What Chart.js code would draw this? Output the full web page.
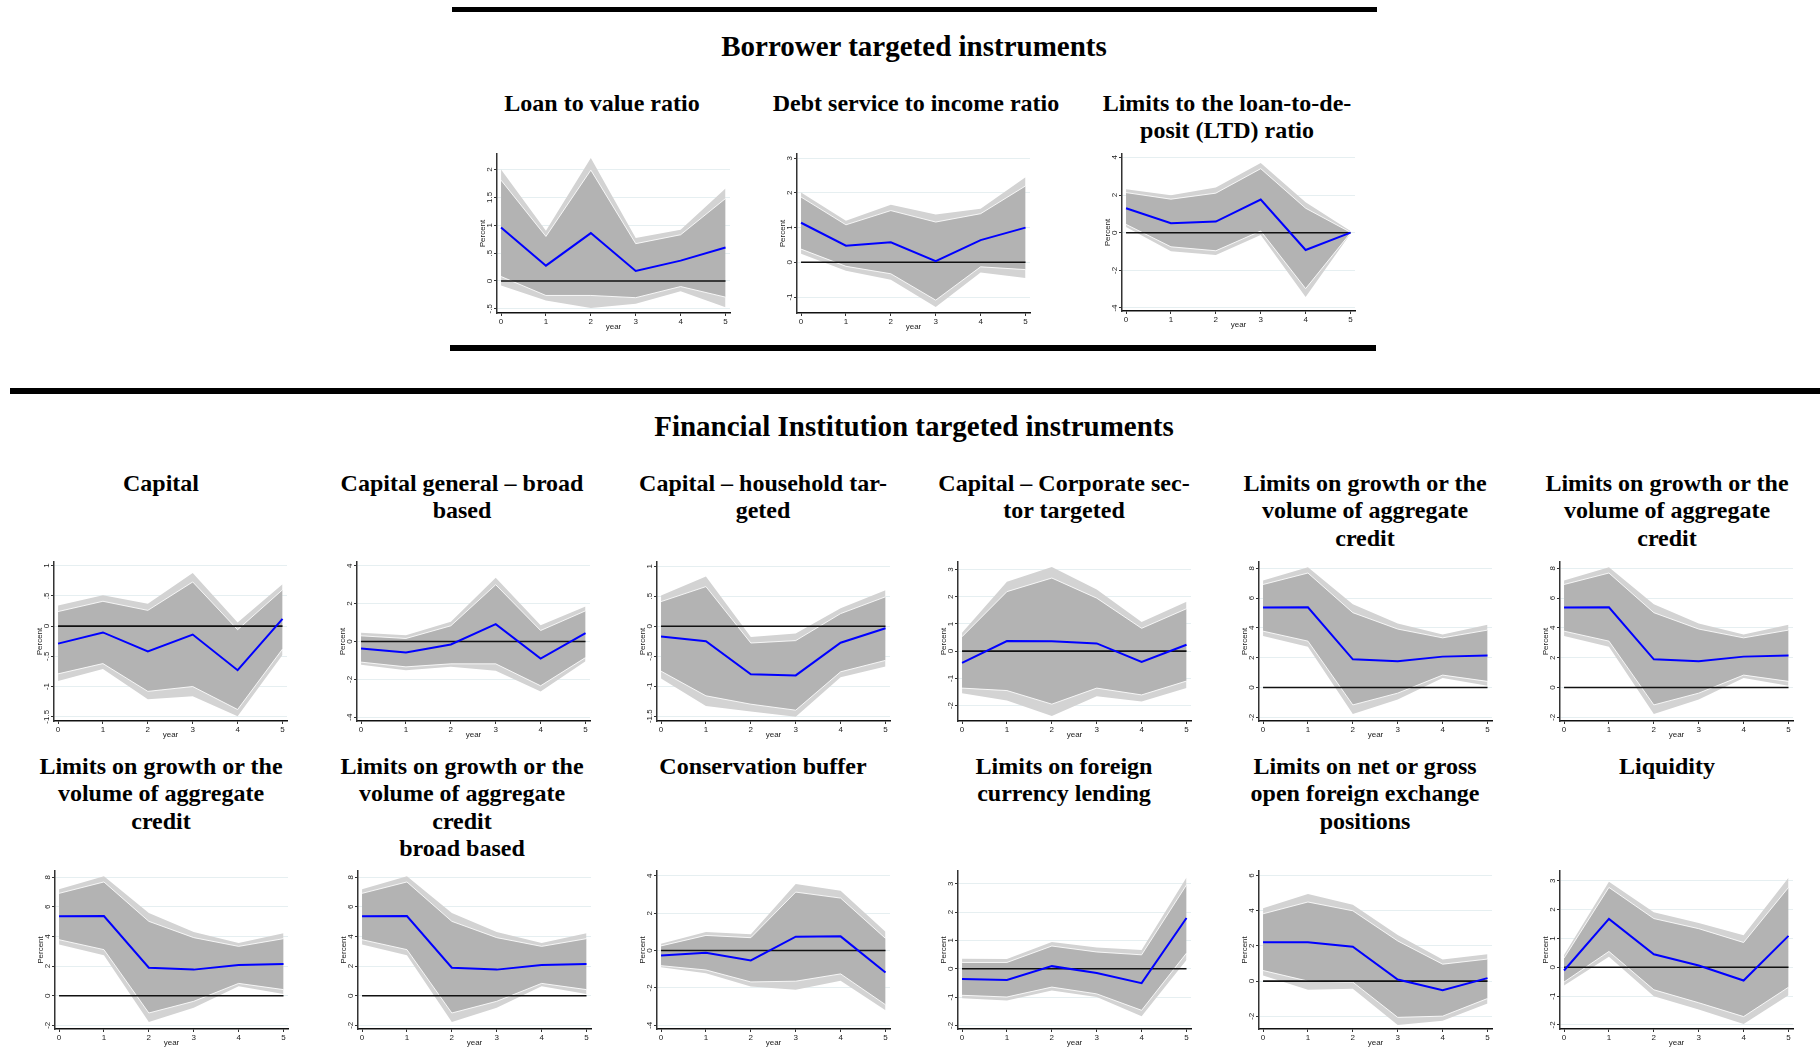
<!DOCTYPE html>
<html>
<head>
<meta charset="utf-8">
<script src="https://cdn.jsdelivr.net/npm/chart.js@4.4.0/dist/chart.umd.min.js"></script>
<style>
body { margin:0; background:#fff; width:1820px; height:1062px; position:relative; overflow:hidden;
       font-family:"Liberation Serif","Times New Roman",serif; }
.bar { position:absolute; background:#000; }
.head { position:absolute; width:900px; text-align:center; font-weight:bold; font-size:29px; line-height:34px; }
.ttl { position:absolute; width:300px; text-align:center; font-weight:bold; font-size:24px; line-height:27.4px; }
.pan { position:absolute; }
</style>
</head>
<body>
<div class="bar" style="left:452px;top:7px;width:925px;height:5px"></div>
<div class="head" style="left:464px;top:29px">Borrower targeted instruments</div>
<div class="bar" style="left:450px;top:345px;width:926px;height:6px"></div>
<div class="bar" style="left:10px;top:388px;width:1810px;height:6px"></div>
<div class="head" style="left:464px;top:409px">Financial Institution targeted instruments</div>

<script>
// impulse responses, years 0-5
const years = [0, 1, 2, 3, 4, 5];
const zeroLine = [0, 0, 0, 0, 0, 0];

// Loan to value ratio
const ltvMean    = [0.96, 0.275, 0.86, 0.18, 0.365, 0.60];
const ltvInnerHi = [1.81, 0.80, 1.99, 0.67, 0.83, 1.48];
const ltvOuterHi = [2.00, 0.90, 2.21, 0.77, 0.92, 1.66];
const ltvInnerLo = [0.08, -0.26, -0.26, -0.30, -0.10, -0.29];
const ltvOuterLo = [-0.08, -0.35, -0.485, -0.41, -0.185, -0.47];
const ltvTicks = [-0.5, 0, 0.5, 1, 1.5, 2];
const ltvRange = [-0.575, 2.28];

// Debt service to income ratio
const dstiMean    = [1.14, 0.48, 0.575, 0.03, 0.64, 1.0];
const dstiInnerHi = [1.88, 1.08, 1.49, 1.16, 1.40, 2.20];
const dstiOuterHi = [2.01, 1.20, 1.66, 1.38, 1.54, 2.45];
const dstiInnerLo = [0.38, -0.115, -0.33, -1.09, -0.13, -0.21];
const dstiOuterLo = [0.25, -0.24, -0.50, -1.29, -0.29, -0.45];
const dstiTicks = [-1, 0, 1, 2, 3];
const dstiRange = [-1.46, 3.12];

// Limits to the loan-to-deposit ratio
const ltdMean    = [1.30, 0.50, 0.59, 1.76, -0.92, 0];
const ltdInnerHi = [2.13, 1.78, 2.10, 3.40, 1.30, 0.02];
const ltdOuterHi = [2.31, 1.99, 2.40, 3.70, 1.62, 0.09];
const ltdInnerLo = [0.44, -0.75, -0.96, 0.09, -2.97, -0.02];
const ltdOuterLo = [0.30, -0.98, -1.19, -0.12, -3.41, -0.05];
const ltdTicks = [-4, -2, 0, 2, 4];
const ltdRange = [-4.16, 4.18];

// Capital
const capMean    = [-0.29, -0.105, -0.42, -0.14, -0.73, 0.12];
const capInnerHi = [0.24, 0.41, 0.26, 0.73, -0.06, 0.60];
const capOuterHi = [0.34, 0.51, 0.37, 0.88, 0.06, 0.69];
const capInnerLo = [-0.79, -0.62, -1.08, -1.00, -1.38, -0.38];
const capOuterLo = [-0.91, -0.71, -1.21, -1.16, -1.49, -0.48];
const capTicks = [-1.5, -1, -0.5, 0, 0.5, 1];
const capRange = [-1.57, 1.06];

// Capital general - broad based
const capGenMean    = [-0.37, -0.58, -0.16, 0.92, -0.90, 0.44];
const capGenInnerHi = [0.30, 0.16, 0.83, 3.00, 0.58, 1.62];
const capGenOuterHi = [0.46, 0.33, 1.04, 3.37, 0.86, 1.85];
const capGenInnerLo = [-1.09, -1.34, -1.18, -1.18, -2.34, -0.85];
const capGenOuterLo = [-1.23, -1.52, -1.34, -1.55, -2.64, -1.04];
const capGenTicks = [-4, -2, 0, 2, 4];
const capGenRange = [-4.2, 4.2];

// Capital - household targeted
const capHhMean    = [-0.17, -0.25, -0.80, -0.82, -0.275, -0.035];
const capHhInnerHi = [0.41, 0.66, -0.28, -0.24, 0.21, 0.49];
const capHhOuterHi = [0.51, 0.83, -0.18, -0.12, 0.30, 0.60];
const capHhInnerLo = [-0.75, -1.16, -1.30, -1.40, -0.76, -0.57];
const capHhOuterLo = [-0.87, -1.33, -1.42, -1.51, -0.85, -0.67];
const capHhTicks = [-1.5, -1, -0.5, 0, 0.5, 1];
const capHhRange = [-1.58, 1.07];

// Capital - corporate sector targeted
const capCorpMean    = [-0.43, 0.37, 0.36, 0.285, -0.40, 0.235];
const capCorpInnerHi = [0.53, 2.19, 2.69, 1.95, 0.84, 1.56];
const capCorpOuterHi = [0.68, 2.55, 3.10, 2.27, 1.07, 1.82];
const capCorpInnerLo = [-1.36, -1.45, -1.95, -1.36, -1.61, -1.10];
const capCorpOuterLo = [-1.55, -1.82, -2.39, -1.66, -1.85, -1.36];
const capCorpTicks = [-2, -1, 0, 1, 2, 3];
const capCorpRange = [-2.57, 3.28];

// Limits on growth or the volume of aggregate credit
const aggMean    = [5.36, 5.38, 1.89, 1.76, 2.07, 2.14];
const aggInnerHi = [6.91, 7.68, 5.02, 3.92, 3.33, 3.85];
const aggOuterHi = [7.18, 8.06, 5.59, 4.30, 3.56, 4.21];
const aggInnerLo = [3.78, 3.11, -1.17, -0.38, 0.83, 0.41];
const aggOuterLo = [3.45, 2.73, -1.78, -0.81, 0.63, 0.11];
const aggTicks = [-2, 0, 2, 4, 6, 8];
const aggRange = [-2.25, 8.42];

// Conservation buffer
const consMean    = [-0.27, -0.12, -0.53, 0.74, 0.76, -1.17];
const consInnerHi = [0.25, 0.81, 0.69, 3.13, 2.81, 0.65];
const consOuterHi = [0.37, 0.99, 0.88, 3.57, 3.20, 1.01];
const consInnerLo = [-0.81, -1.04, -1.68, -1.64, -1.25, -2.90];
const consOuterLo = [-0.90, -1.22, -1.93, -2.10, -1.61, -3.20];
const consTicks = [-4, -2, 0, 2, 4];
const consRange = [-4.2, 4.26];

// Limits on foreign currency lending
const fxMean    = [-0.36, -0.40, 0.09, -0.15, -0.51, 1.79];
const fxInnerHi = [0.22, 0.22, 0.80, 0.59, 0.49, 2.96];
const fxOuterHi = [0.35, 0.34, 0.94, 0.75, 0.66, 3.22];
const fxInnerLo = [-0.94, -1.00, -0.65, -0.89, -1.47, 0.55];
const fxOuterLo = [-1.04, -1.12, -0.77, -1.00, -1.68, 0.31];
const fxTicks = [-2, -1, 0, 1, 2, 3];
const fxRange = [-2.13, 3.45];

// Limits on net or gross open foreign exchange positions
const netFxMean    = [2.21, 2.21, 1.95, 0.09, -0.52, 0.17];
const netFxInnerHi = [3.82, 4.49, 3.99, 2.28, 0.96, 1.25];
const netFxOuterHi = [4.14, 4.94, 4.34, 2.62, 1.22, 1.52];
const netFxInnerLo = [0.60, 0.00, -0.06, -2.06, -1.99, -0.99];
const netFxOuterLo = [0.32, -0.49, -0.43, -2.49, -2.25, -1.27];
const netFxTicks = [-2, 0, 2, 4, 6];
const netFxRange = [-2.72, 6.25];

// Liquidity
const liqMean    = [-0.11, 1.68, 0.45, 0.06, -0.46, 1.09];
const liqInnerHi = [0.32, 2.77, 1.69, 1.34, 0.86, 2.77];
const liqOuterHi = [0.43, 2.97, 1.91, 1.54, 1.11, 3.11];
const liqInnerLo = [-0.51, 0.55, -0.78, -1.23, -1.71, -0.69];
const liqOuterLo = [-0.63, 0.37, -1.00, -1.46, -1.97, -0.97];
const liqTicks = [-2, -1, 0, 1, 2, 3];
const liqRange = [-2.14, 3.34];

const aggTitle = 'Limits on growth or the<br>volume of aggregate<br>credit';

// title, title centre x, first title line y, plot left, plot top, plot height, data
const panels = [
  ['Loan to value ratio', 602, 103, 497, 154, 159, ltvMean, ltvInnerLo, ltvInnerHi, ltvOuterLo, ltvOuterHi, ltvTicks, ltvRange],
  ['Debt service to income ratio', 916, 103, 797, 154, 159, dstiMean, dstiInnerLo, dstiInnerHi, dstiOuterLo, dstiOuterHi, dstiTicks, dstiRange],
  ['Limits to the loan-to-de-<br>posit (LTD) ratio', 1227, 103, 1122, 154, 157, ltdMean, ltdInnerLo, ltdInnerHi, ltdOuterLo, ltdOuterHi, ltdTicks, ltdRange],

  ['Capital', 161, 483, 54, 562, 159, capMean, capInnerLo, capInnerHi, capOuterLo, capOuterHi, capTicks, capRange],
  ['Capital general – broad<br>based', 462, 483, 357, 562, 159, capGenMean, capGenInnerLo, capGenInnerHi, capGenOuterLo, capGenOuterHi, capGenTicks, capGenRange],
  ['Capital – household tar-<br>geted', 763, 483, 657, 562, 159, capHhMean, capHhInnerLo, capHhInnerHi, capHhOuterLo, capHhOuterHi, capHhTicks, capHhRange],
  ['Capital – Corporate sec-<br>tor targeted', 1064, 483, 958, 562, 159, capCorpMean, capCorpInnerLo, capCorpInnerHi, capCorpOuterLo, capCorpOuterHi, capCorpTicks, capCorpRange],
  [aggTitle, 1365, 483, 1259, 562, 159, aggMean, aggInnerLo, aggInnerHi, aggOuterLo, aggOuterHi, aggTicks, aggRange],
  [aggTitle, 1667, 483, 1560, 562, 159, aggMean, aggInnerLo, aggInnerHi, aggOuterLo, aggOuterHi, aggTicks, aggRange],

  [aggTitle, 161, 766, 55, 871, 158, aggMean, aggInnerLo, aggInnerHi, aggOuterLo, aggOuterHi, aggTicks, aggRange],
  [aggTitle + '<br>broad based', 462, 766, 358, 871, 158, aggMean, aggInnerLo, aggInnerHi, aggOuterLo, aggOuterHi, aggTicks, aggRange],
  ['Conservation buffer', 763, 766, 657, 871, 158, consMean, consInnerLo, consInnerHi, consOuterLo, consOuterHi, consTicks, consRange],
  ['Limits on foreign<br>currency lending', 1064, 766, 958, 871, 158, fxMean, fxInnerLo, fxInnerHi, fxOuterLo, fxOuterHi, fxTicks, fxRange],
  ['Limits on net or gross<br>open foreign exchange<br>positions', 1365, 766, 1259, 871, 158, netFxMean, netFxInnerLo, netFxInnerHi, netFxOuterLo, netFxOuterHi, netFxTicks, netFxRange],
  ['Liquidity', 1667, 766, 1560, 871, 158, liqMean, liqInnerLo, liqInnerHi, liqOuterLo, liqOuterHi, liqTicks, liqRange]
];

const smallFont = { family: 'Liberation Sans, Arial, sans-serif', size: 8 };

// Stata style: ".5", "-1.5"
function stataNum(v) {
  return String(v).replace(/^(-?)0\./, '$1.');
}

// vertical y tick labels
const yLabels = {
  id: 'yLabels',
  afterDraw(chart) {
    const s = chart.scales.y, ctx = chart.ctx;
    ctx.save();
    ctx.fillStyle = '#222';
    ctx.font = '8px "Liberation Sans", Arial, sans-serif';
    ctx.textAlign = 'center';
    ctx.textBaseline = 'middle';
    s.ticks.forEach(t => {
      ctx.save();
      ctx.translate(chart.chartArea.left - 7.5, s.getPixelForValue(t.value));
      ctx.rotate(-Math.PI / 2);
      ctx.fillText(stataNum(t.value), 0, 0);
      ctx.restore();
    });
    ctx.restore();
  }
};

panels.forEach(p => {
  const [title, cx, ty, L, T, H, mean, inLo, inHi, outLo, outHi, ticks, range] = p;

  const t = document.createElement('div');
  t.className = 'ttl';
  t.style.left = (cx - 150) + 'px';
  t.style.top = (ty - 13) + 'px';
  t.innerHTML = title;
  document.body.appendChild(t);

  const box = document.createElement('div');
  box.className = 'pan';
  box.style.left = (L - 20) + 'px';
  box.style.top = (T - 8) + 'px';
  const cv = document.createElement('canvas');
  cv.width = 257;
  cv.height = H + 28;
  box.appendChild(cv);
  document.body.appendChild(box);

  new Chart(cv.getContext('2d'), {
    type: 'line',
    data: {
      labels: years,
      datasets: [
        { data: outLo, borderColor: 'rgba(0,0,0,0)', borderWidth: 0, fill: false, order: 6 },
        { data: outHi, borderColor: 'rgba(0,0,0,0)', borderWidth: 0, fill: '-1', backgroundColor: '#d3d3d3', order: 5 },
        { data: inHi, borderColor: 'rgba(255,255,255,0.85)', borderWidth: 1, fill: '+1', backgroundColor: '#b3b3b3', order: 4 },
        { data: inLo, borderColor: 'rgba(255,255,255,0.85)', borderWidth: 1, fill: false, order: 3 },
        { data: zeroLine, borderColor: '#111', borderWidth: 1.6, fill: false, order: 2 },
        { data: mean, borderColor: '#0000ff', borderWidth: 2, fill: false, order: 1 }
      ]
    },
    options: {
      responsive: false,
      animation: false,
      devicePixelRatio: 1,
      layout: { padding: { top: 8, right: 4, left: 0, bottom: 0 } },
      elements: { point: { radius: 0 }, line: { tension: 0 } },
      plugins: { legend: { display: false }, tooltip: { enabled: false } },
      scales: {
        x: {
          type: 'linear', min: -0.09, max: 5.1,
          afterBuildTicks: s => { s.ticks = years.map(v => ({ value: v })); },
          afterFit: s => { s.height = 20; },
          ticks: { font: smallFont, color: '#222', padding: 1, maxRotation: 0, autoSkip: false },
          grid: { drawOnChartArea: false, tickLength: 3, tickColor: '#333' },
          border: { color: '#111', width: 1.5 },
          title: { display: true, text: 'year', font: smallFont, color: '#222', padding: { top: 0, bottom: 1 } }
        },
        y: {
          min: range[0], max: range[1],
          afterBuildTicks: s => { s.ticks = ticks.map(v => ({ value: v })); },
          afterFit: s => { s.width = 20; },
          ticks: { display: false },
          grid: { color: '#e6eff1', tickLength: 3, tickColor: '#333' },
          border: { color: '#333', width: 1.5 },
          title: { display: true, text: 'Percent', font: smallFont, color: '#222', padding: { top: 1, bottom: 0 } }
        }
      }
    },
    plugins: [yLabels]
  });
});
</script>
</body>
</html>
